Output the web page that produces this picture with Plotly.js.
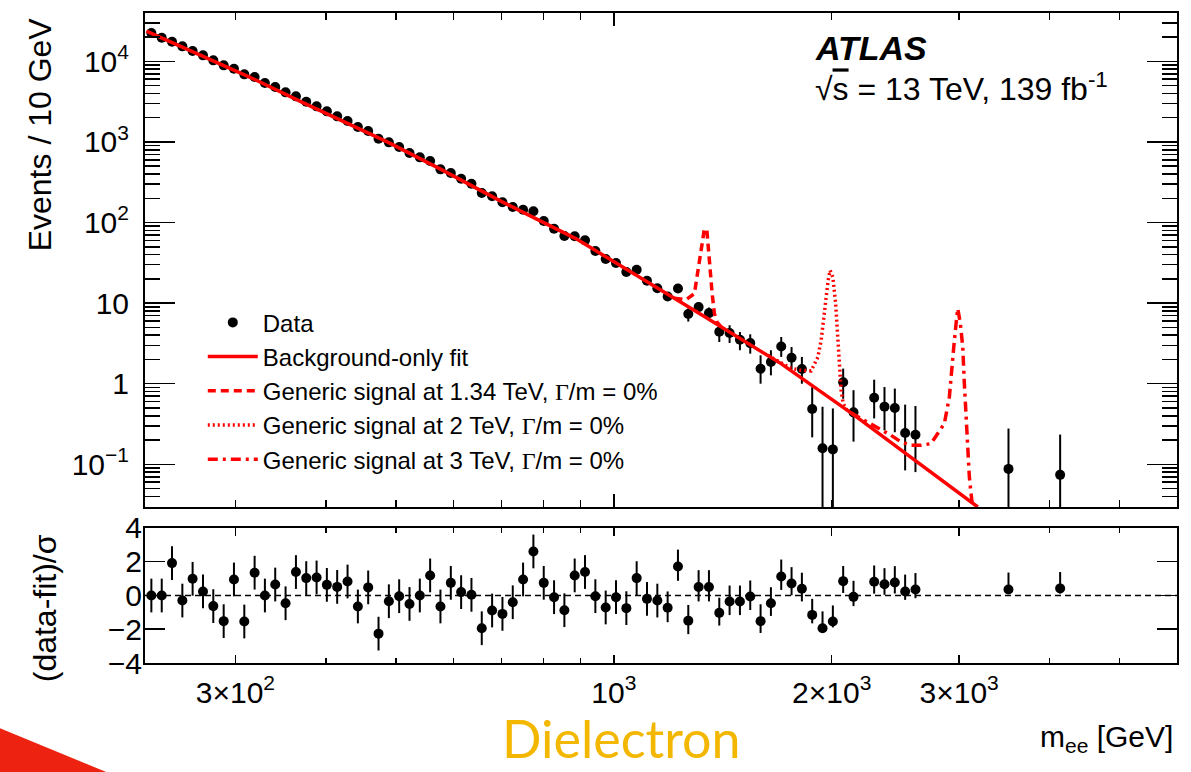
<!DOCTYPE html>
<html>
<head>
<meta charset="utf-8">
<script src="https://cdn.plot.ly/plotly-3.0.1.min.js"></script>
<style>html,body{margin:0;padding:0;background:#fff;}#chart{width:1191px;height:772px;}</style>
</head>
<body>
<div id="chart"></div>
<script>
// ---- Data points (bin centres in GeV, events / 10 GeV) ----
const mass = [229.6,237.3,245.2,253.4,261.8,270.6,279.6,289.0,298.6,308.6,
  318.9,329.5,340.5,351.9,363.7,375.8,388.4,401.3,414.7,428.6,
  442.9,457.7,473.0,488.8,505.1,522.0,539.4,557.4,576.0,595.3,
  615.2,635.7,656.9,678.9,701.6,725.0,749.2,774.2,800.1,826.8,
  854.4,882.9,912.4,942.9,974.4,1006.9,1040.6,1075.3,1111.2,1148.4,
  1186.7,1226.3,1267.3,1309.6,1353.4,1398.6,1445.3,1493.6,1543.4,1595.0,
  1648.3,1703.3,1760.2,1819.0,1879.7,1942.5,2007.4,2074.4,2143.7,
  2289.3,2365.8,2444.8,2526.4,2610.8,3510,4137];
const events = [22460,19660,17540,15350,13430,11870,10290,8920,8110,6900,
  6390,5385,4803,4125,3680,3160,2765,2397,2078,1818,
  1532,1366,1098,988.6,865,729,644,580,457,412,
  350,303.5,232.5,211.4,178.1,155.8,144.4,137.7,104.5,83.9,
  68.1,67.4,60.1,44.4,35.3,31.5,24.3,26.0,18.9,15.3,
  12.1,15.2,7.31,8.92,7.52,4.41,4.25,3.51,3.19,1.53,
  1.86,2.90,2.10,1.52,0.486,0.158,0.153,1.04,0.441,
  0.671,0.519,0.500,0.245,0.233,0.0877,0.0739];
const eventsErrUp = [0,0,0,0,0,0,0,0,0,0, 0,0,0,0,0,0,0,0,0,0,
  0,0,0,0,0,0,0,0,0,0, 0,0,0,0,0,0,0,0,0,0,
  0,0,0,0,0,0,0,0,1.4,1.3,
  1.2,1.4,1.3,1.4,1.3,0.9,1.06,0.87,0.91,0.72,
  0.74,0.9,0.75,0.63,0.42,0.36,0.34,0.5,0.39,
  0.45,0.39,0.37,0.305,0.296,0.19,0.16];
const eventsErrDn = [0,0,0,0,0,0,0,0,0,0, 0,0,0,0,0,0,0,0,0,0,
  0,0,0,0,0,0,0,0,0,0, 0,0,0,0,0,0,0,0,0,0,
  0,0,0,0,0,0,0,0,1.4,1.3,
  1.2,1.4,1.4,1.16,1.3,1.12,1.05,0.91,0.83,0.53,
  0.59,0.75,0.6,0.52,0.27,0.131,0.127,0.39,0.25,
  0.30,0.255,0.25,0.161,0.153,0.073,0.061];

// ---- Significance (data-fit)/sigma ----
const resid = [0.0,0.0,1.92,-0.30,0.99,0.24,-0.63,-1.52,0.95,-1.54,
  1.35,0.0,0.65,-0.46,1.39,1.03,1.07,0.63,0.51,0.83,
  -0.65,0.48,-2.26,-0.34,-0.04,-0.50,0.0,1.19,-0.65,0.75,
  0.20,0.04,-1.94,-0.89,-1.09,-0.40,0.95,2.61,0.75,-0.10,
  -0.87,1.19,1.39,-0.04,-0.71,-0.10,-0.75,1.03,-0.20,-0.30,
  -0.73,1.72,-1.49,0.50,0.50,-1.03,-0.36,-0.36,-0.06,-1.52,
  -0.46,1.13,0.71,0.40,-1.15,-1.94,-1.54,0.85,-0.08,
  0.81,0.67,0.77,0.24,0.36,0.36,0.42];
const residErrUp = [1,1,1,1,1,1,1,1,1,1, 1,1,1,1,1,1,1,1,1,1,
  1,1,1,1,1,1,1,1,1,1, 1,1,1,1,1,1,1,1,1,1,
  1,1,1,1,1,1,1,1,1,1,
  0.97,1.0,0.93,1.0,1.0,0.9,0.95,0.95,0.95,1.0,
  0.95,1.0,0.97,0.95,0.95,1.0,0.95,0.9,0.95,
  0.97,0.95,0.97,1.0,0.97,1.0,0.97];
const residErrDn = [1,1,1,1,1,1,1,1,1,1, 1,1,1,1,1,1,1,1,1,1,
  1,1,1,1,1,1,1,1,1,1, 1,1,1,1,1,1,1,1,1,1,
  1,1,1,1,1,1,1,1,1,1,
  0.85,0.85,0.8,0.85,0.85,0.75,0.8,0.8,0.8,0.7,
  0.75,0.8,0.7,0.75,0.5,0.28,0.35,0.7,0.55,
  0.7,0.63,0.65,0.5,0.52,0.25,0.3];

// ---- Background-only fit ----
const fitMass = [226.0,315.5,370.0,487.9,575.2,698.9,887.2,1090.6,1320,1702,2141,3183];
const fitVal  = [23760,6243,3144,988.6,463.8,183.2,62.8,20.6,7.20,1.776,0.4172,0.02953];

// ---- Signal + background curves ----
const sig134Mass = [1212.6,1258.6,1292.3,1303.6,1313,1324.4,1334,1344.5,1351.3,1358.5,1367.3,1377.1,1388.7,1407];
const sig134Val  = [11.50,11.05,13.12,21.07,33.96,54.7,84.0,80.0,45.2,25.5,13.12,7.41,5.78,5.08];
const sig2Mass = [1632,1757.9,1814.7,1873.3,1913.7,1933.9,1946.3,1961.8,1977.4,1990.1,2007.2,2025.1,2036.7,2047.8,2060.8,2074.0,2100.6];
const sig2Val  = [2.251,1.553,1.466,1.445,2.126,3.455,5.616,10.83,19.18,25.52,21.07,9.94,4.22,1.951,0.828,0.571,0.4677];
const sig3Mass = [2126.4,2219.1,2315.7,2415.7,2493.8,2574.4,2657.6,2743.5,2802.5,2862,2908,2930.5,2949.2,2970.8,2986.9,3011.7,3034.8,3050.2,3066.8,3083.4,3099.1,3116,3130.8];
const sig3Val  = [0.4342,0.3515,0.2903,0.2290,0.1891,0.1720,0.1720,0.1806,0.2404,0.3199,0.684,1.334,2.852,5.566,8.55,5.566,2.852,1.003,0.3862,0.1639,0.0696,0.04329,0.0301];

// ---- Axis ticks ----
const yMajor = [0.1,1,10,100,1000,10000];
const yMajorText = ['10<sup>\u22121</sup>','1','10','10<sup>2</sup>','10<sup>3</sup>','10<sup>4</sup>'];
const yMinor = [];
[0.01,0.1,1,10,100,1000,10000].forEach(d=>{for(let k=2;k<=9;k++) yMinor.push(k*d);});
const xLabelVals = [300,1000,2000,3000];
const xLabelText = ['3\u00d710<sup>2</sup>','10<sup>3</sup>','2\u00d710<sup>3</sup>','3\u00d710<sup>3</sup>'];
const xMinorVals = [400,500,600,700,800,900,4000,5000];
const rVals = [-4,-2,0,2,4];
const rText = ['\u22124','\u22122','0','2','4'];

const FONT = 'Liberation Sans, Arial, Helvetica, sans-serif';
const G = '<span style="font-family:Liberation Serif">\u0393</span>';

const traces = [
  {x: mass, y: events, type:'scatter', mode:'markers', name:'Data',
   marker:{color:'black', size:10},
   error_y:{type:'data', symmetric:false, array:eventsErrUp, arrayminus:eventsErrDn, color:'black', thickness:2, width:0},
   xaxis:'x', yaxis:'y', legendgroup:'a'},
  {x: fitMass, y: fitVal, type:'scatter', mode:'lines', name:'Background-only fit',
   line:{color:'#ff0000', width:3.5}, xaxis:'x', yaxis:'y', legendgroup:'b'},
  {x: sig134Mass, y: sig134Val, type:'scatter', mode:'lines', name:'Generic signal at 1.34 TeV, '+G+'/m = 0%',
   line:{color:'#ff0000', width:3.5, dash:'8px,5px'}, xaxis:'x', yaxis:'y', legendgroup:'c'},
  {x: sig2Mass, y: sig2Val, type:'scatter', mode:'lines', name:'Generic signal at 2 TeV, '+G+'/m = 0%',
   line:{color:'#ff0000', width:3.5, dash:'2px,3px'}, xaxis:'x', yaxis:'y', legendgroup:'d'},
  {x: sig3Mass, y: sig3Val, type:'scatter', mode:'lines', name:'Generic signal at 3 TeV, '+G+'/m = 0%',
   line:{color:'#ff0000', width:3.5, dash:'10px,5px,3px,5px'}, xaxis:'x', yaxis:'y', legendgroup:'e'},
  {x: mass, y: resid, type:'scatter', mode:'markers', showlegend:false,
   marker:{color:'black', size:10},
   error_y:{type:'data', symmetric:false, array:residErrUp, arrayminus:residErrDn, color:'black', thickness:2, width:0},
   xaxis:'x2', yaxis:'y2'}
];

const xr = [Math.log10(225), Math.log10(6000)];
const axisCommon = {showline:true, linecolor:'black', linewidth:2, mirror:'allticks', ticks:'inside',
  tickcolor:'black', tickwidth:1.5, showgrid:false, zeroline:false};

const layout = {
  width:1191, height:772,
  margin:{l:145, r:14, t:13, b:109},
  paper_bgcolor:'white', plot_bgcolor:'white',
  font:{family:FONT, color:'black', size:30},
  showlegend:true,
  legend:{x:0.056, y:0.558, xanchor:'left', yanchor:'top', bgcolor:'rgba(0,0,0,0)', borderwidth:0,
    font:{family:FONT, size:24, color:'black'}, itemwidth:50, tracegroupgap:5, traceorder:'normal'},
  xaxis: Object.assign({}, axisCommon, {type:'log', range:xr, domain:[0,1], anchor:'y',
    tickmode:'array', tickvals:[1000], ticklen:13, showticklabels:false,
    minor:{tickmode:'array', tickvals:[300,400,500,600,700,800,900,2000,3000,4000,5000], ticklen:7, tickwidth:1.5, tickcolor:'black', ticks:'inside', showgrid:false}}),
  yaxis: Object.assign({}, axisCommon, {type:'log', range:[-1.53,4.6], domain:[0.24,1], anchor:'x',
    tickmode:'array', tickvals:yMajor, ticktext:yMajorText, ticklen:30, ticklabelstandoff:8,
    tickfont:{family:FONT, size:30},
    minor:{tickmode:'array', tickvals:yMinor, ticklen:15, tickwidth:1.5, tickcolor:'black', ticks:'inside', showgrid:false}}),
  xaxis2: Object.assign({}, axisCommon, {type:'log', range:xr, domain:[0,1], anchor:'y2', matches:'x',
    tickmode:'array', tickvals:xLabelVals, ticktext:xLabelText, ticklen:8, ticklabelstandoff:2,
    tickfont:{family:FONT, size:30},
    minor:{tickmode:'array', tickvals:xMinorVals, ticklen:5, tickwidth:1.5, tickcolor:'black', ticks:'inside', showgrid:false}}),
  yaxis2: Object.assign({}, axisCommon, {range:[-4,4], domain:[0,0.2077], anchor:'x2',
    tickmode:'array', tickvals:rVals, ticktext:rText, ticklen:20, ticklabelstandoff:-5,
    tickfont:{family:FONT, size:30}}),
  shapes:[
    {type:'line', xref:'x2 domain', x0:0, x1:1, yref:'y2', y0:0, y1:0, layer:'below',
     line:{color:'black', width:1.5, dash:'6px,4px'}},
    {type:'path', xref:'paper', yref:'paper', layer:'above',
     path:'M -0.1405,-0.1005 L -0.0368,-0.1682 L -0.1405,-0.1682 Z',
     fillcolor:'#EE2211', line:{width:0}}
  ],
  annotations:[
    {xref:'paper', yref:'paper', x:0.6473, y:0.9457, xanchor:'left', yanchor:'middle', showarrow:false,
     text:'<b><i>ATLAS</i></b>', font:{family:FONT, size:34, color:'black'}},
    {xref:'paper', yref:'paper', x:0.6473, y:0.8860, xanchor:'left', yanchor:'middle', showarrow:false,
     text:'\u221A<span style="text-decoration:overline">s</span> = 13 TeV, 139 fb<sup>-1</sup>', font:{family:FONT, size:32, color:'black'}},
    {xref:'paper', yref:'paper', x:-0.1017, y:0.8134, xanchor:'center', yanchor:'middle', showarrow:false,
     textangle:-90, text:'Events / 10 GeV', font:{family:FONT, size:32, color:'black'}},
    {xref:'paper', yref:'paper', x:-0.0969, y:0.0842, xanchor:'center', yanchor:'middle', showarrow:false,
     textangle:-90, text:'(data-fit)/\u03c3', font:{family:FONT, size:32, color:'black'}},
    {xref:'paper', yref:'paper', x:0.998, y:-0.1158, xanchor:'right', yanchor:'middle', showarrow:false,
     text:'m<sub>ee</sub> [GeV]', font:{family:FONT, size:30, color:'black'}},
    {xref:'paper', yref:'paper', x:0.4622, y:-0.1661, xanchor:'center', yanchor:'bottom', showarrow:false,
     text:'Dielectron', font:{family:'Lato, Open Sans, sans-serif', size:52, color:'#F3B700'}}
  ]
};

Plotly.newPlot('chart', traces, layout, {displayModeBar:false, staticPlot:true});
</script>
</body>
</html>
